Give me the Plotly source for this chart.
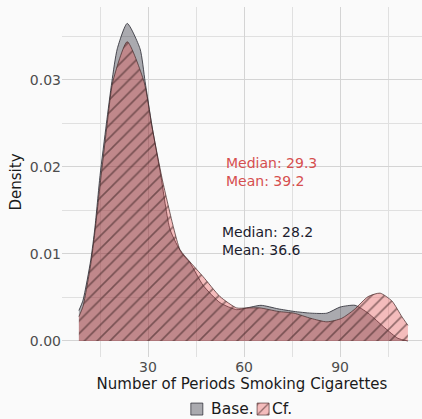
import plotly.graph_objects as go

# Kernel density of the number of periods spent smoking, baseline vs counterfactual
base_x = [8.4, 9.7, 12.1, 13.4, 15.0, 17.0, 18.7, 20.4, 23.5, 27.5, 29.1, 31.2, 34.0, 36.9,
          40.5, 43.1, 47.2, 52.5, 57.7, 60.9, 65.3, 70.6, 75.6, 80.9, 85.9, 90.0, 94.7,
          98.75, 104.0, 108.1, 111.2]
base_d = [0.0035, 0.0047, 0.0093, 0.0130, 0.0190, 0.0250, 0.0298, 0.0336, 0.0365, 0.0336,
          0.0298, 0.0248, 0.0190, 0.0128, 0.0101, 0.0090, 0.0064, 0.0044, 0.0036, 0.0038,
          0.0041, 0.0037, 0.0034, 0.0032, 0.0032, 0.0039, 0.0041, 0.0032, 0.0015, 0.0003,
          0.0000]

cf_x = [8.4, 9.7, 12.1, 13.4, 15.2, 17.1, 19.0, 23.5, 28.75, 31.3, 34.5, 38.0, 40.0, 43.1,
        47.2, 52.5, 57.7, 60.9, 65.0, 70.6, 75.6, 80.9, 85.9, 90.5, 94.4, 98.75, 102.5,
        106.2, 109.3, 111.2]
cf_d = [0.0028, 0.0040, 0.0088, 0.0125, 0.0185, 0.0245, 0.0298, 0.0344, 0.0298, 0.0245,
        0.0185, 0.0130, 0.0105, 0.0091, 0.0074, 0.0051, 0.0038, 0.0038, 0.0038, 0.0034,
        0.0032, 0.0026, 0.0022, 0.0026, 0.0036, 0.0051, 0.0055, 0.0046, 0.0028, 0.0018]

series_names = ["Base.", "Cf."]
stat_labels = ["Median: 28.2<br>Mean: 36.6", "Median: 29.3<br>Mean: 39.2"]
label_pos = [(52.5, 0.01155), (53.8, 0.0194)]
x_ticks = [30, 60, 90]
y_ticks = [0.00, 0.01, 0.02, 0.03]

FONT = "DejaVu Sans"
BG = "#fafafa"
GRID = "#d4d4d4"
MINOR = "#e0e0e0"

BASE_FILL = "rgba(20,20,35,0.35)"
CF_FILL = "rgba(230,70,70,0.35)"
BASE_LINE = "rgba(30,30,40,0.85)"
CF_LINE = "rgba(70,40,40,0.8)"
HATCH = dict(shape="/", fgcolor="rgb(60,35,35)", fgopacity=0.55, size=9, solidity=0.18,
             fillmode="overlay")

fig = go.Figure()

# baseline: translucent dark fill
fig.add_trace(go.Scatter(
    x=base_x, y=base_d, name=series_names[0], mode="lines", showlegend=False,
    line=dict(color=BASE_LINE, width=0.9, shape="spline", smoothing=0.6),
    fill="tozeroy", fillcolor=BASE_FILL,
))

# counterfactual: translucent red fill with diagonal hatching
fig.add_trace(go.Scatter(
    x=cf_x, y=cf_d, name=series_names[1], mode="lines", showlegend=False,
    line=dict(color=CF_LINE, width=0.9, shape="spline", smoothing=0.6),
    fill="tozeroy", fillcolor=CF_FILL, fillpattern=HATCH,
))

# legend: one square key per series (own legend box each), labels set close beside them
key_x = [0.319, 0.503]
label_x = [0.408, 0.579]
LEG_Y = -0.149
fig.add_trace(go.Bar(x=[None], y=[None], name="", legend="legend",
                     marker=dict(color=BASE_FILL, line=dict(color=BASE_LINE, width=0.8))))
fig.add_trace(go.Bar(x=[None], y=[None], name="", legend="legend2",
                     marker=dict(color=CF_FILL, line=dict(color=CF_LINE, width=0.8),
                                 pattern=HATCH)))
for name, lx in zip(series_names, label_x):
    fig.add_annotation(x=lx, y=LEG_Y, xref="paper", yref="paper", text=name,
                       showarrow=False, xanchor="left", yanchor="middle",
                       font=dict(family=FONT, size=15.5, color="#1a1a1a"))

for text, (ax, ay), col in zip(stat_labels, label_pos, ["#1c1c2e", "#d64f4f"]):
    fig.add_annotation(x=ax, y=ay, text=text, showarrow=False, xanchor="left",
                       yanchor="middle", align="left",
                       font=dict(family=FONT, size=14, color=col))

legend_style = dict(orientation="h", y=LEG_Y, yanchor="middle", xanchor="left",
                    font=dict(family=FONT, size=16, color="#1a1a1a"),
                    bgcolor="rgba(0,0,0,0)", itemwidth=30)

fig.update_layout(
    width=422, height=419,
    margin=dict(l=62, r=0, t=7, b=62, autoexpand=False),
    paper_bgcolor=BG, plot_bgcolor=BG,
    font=dict(family=FONT, size=14, color="#4d4d4d"),
    showlegend=True,
    legend=dict(x=key_x[0], **legend_style),
    legend2=dict(x=key_x[1], **legend_style),
)

fig.update_xaxes(
    range=[3.125, 115.6], tickvals=x_ticks, ticks="", showline=False, zeroline=False,
    showgrid=True, gridcolor=GRID, gridwidth=1.2,
    minor=dict(dtick=15, tick0=0, showgrid=True, gridcolor=MINOR, gridwidth=1),
    tickfont=dict(family=FONT, size=14, color="#4d4d4d"),
    title=dict(text="Number of Periods Smoking Cigarettes", standoff=2,
               font=dict(family=FONT, size=15, color="#1a1a1a")),
)
fig.update_yaxes(
    range=[-0.00184, 0.03839], tickvals=y_ticks, tickformat=".2f", ticks="",
    showline=False, zeroline=False,
    showgrid=True, gridcolor=GRID, gridwidth=1.2,
    minor=dict(dtick=0.005, tick0=0, showgrid=True, gridcolor=MINOR, gridwidth=1),
    tickfont=dict(family=FONT, size=14, color="#4d4d4d"),
    title=dict(text="Density", standoff=4,
               font=dict(family=FONT, size=15, color="#1a1a1a")),
)

fig.write_html("out.html")
